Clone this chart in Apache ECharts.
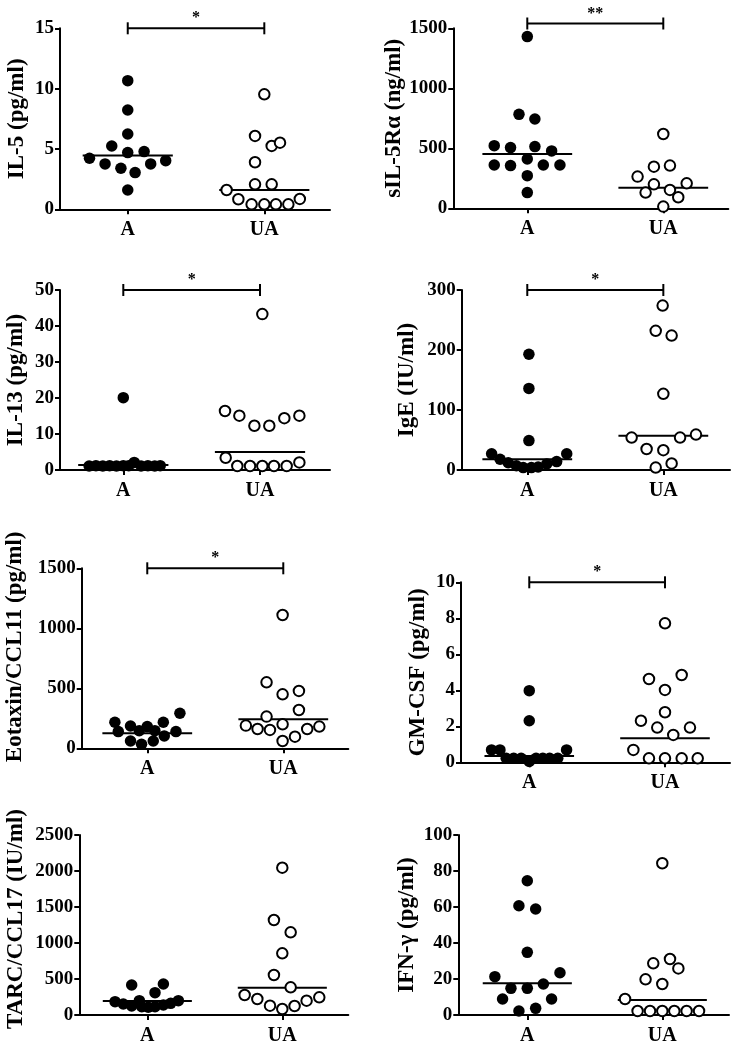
<!DOCTYPE html>
<html>
<head>
<meta charset="utf-8">
<script src="https://cdn.jsdelivr.net/npm/echarts@6/dist/echarts.min.js"></script>
<style>
html,body{margin:0;padding:0;background:#fff;}
#chart{width:741px;height:1050px;}
</style>
</head>
<body>
<div id="chart"></div>
<script>
// ---------- DATA ----------
const groups = ['A', 'UA'];

// IL-5 (pg/ml)
const il5_A    = [10.66, 8.23, 6.24, 5.25, 4.70, 4.78, 4.23, 3.76, 3.76, 4.03, 3.40, 3.04, 1.60];
const il5_A_dx = [0, 0, 0, -0.117, 0, 0.12, -0.28, -0.166, 0.168, 0.278, -0.05, 0.054, 0];
const il5_UA    = [9.53, 6.08, 5.25, 5.52, 3.90, 2.07, 2.07, 1.60, 0.83, 0.86, 0.41, 0.41, 0.41, 0.41];
const il5_UA_dx = [0, -0.068, 0.054, 0.115, -0.068, -0.068, 0.054, -0.276, -0.19, 0.26, -0.093, 0, 0.085, 0.176];
const il5_median = [4.45, 1.60];

// sIL-5Rα (ng/ml)
const sil5_A    = [1431, 783, 744, 522, 506, 514, 478, 411, 361, 356, 361, 361, 272, 131];
const sil5_A_dx = [0, -0.061, 0.056, -0.243, -0.123, 0.056, 0.179, 0, -0.243, -0.123, 0.118, 0.24, 0, 0];
const sil5_UA    = [619, 347, 356, 264, 200, 208, 131, 153, 92, 14];
const sil5_UA_dx = [0, -0.069, 0.049, -0.189, -0.069, 0.172, -0.13, 0.049, 0.11, 0];
const sil5_median = [453, 172];

// IL-13 (pg/ml)
const il13_A    = [20.1, 2.1, 1.1, 1.2, 1.1, 1.2, 1.1, 1.2, 1.2, 1.1, 1.2, 1.1, 1.2];
const il13_A_dx = [0, 0.08, -0.25, -0.2, -0.15, -0.1, -0.05, 0, 0.04, 0.13, 0.18, 0.23, 0.27];
const il13_UA    = [43.3, 16.4, 15.1, 12.3, 12.3, 14.4, 15.1, 3.4, 1.1, 1.1, 1.1, 1.1, 1.1, 2.1];
const il13_UA_dx = [0.017, -0.256, -0.151, -0.041, 0.068, 0.178, 0.288, -0.251, -0.166, -0.073, 0.017, 0.102, 0.195, 0.288];
const il13_median = [1.4, 5.0];

// IgE (IU/ml)
const ige_A    = [193, 136, 49, 27, 18, 12, 7, 4, 4, 5, 10, 14, 27];
const ige_A_dx = [0.012, 0.012, 0.012, -0.262, -0.2, -0.14, -0.08, -0.03, 0.03, 0.08, 0.143, 0.216, 0.29];
const ige_UA    = [274, 232, 224, 127, 54, 54, 59, 35, 33, 11, 4];
const ige_UA_dx = [-0.005, -0.056, 0.061, 0, -0.233, 0.123, 0.24, -0.123, 0, 0.061, -0.056];
const ige_median = [18, 57];

// Eotaxin/CCL11 (pg/ml)
const eot_A    = [217, 186, 181, 217, 292, 139, 147, 147, 139, 103, 61, 61, 33];
const eot_A_dx = [-0.238, -0.123, 0, 0.118, 0.24, -0.213, -0.059, 0.056, 0.211, 0.125, -0.123, 0.044, -0.042];
const eot_UA    = [1111, 550, 450, 478, 264, 319, 189, 161, 153, 200, 161, 181, 97, 61];
const eot_UA_dx = [-0.005, -0.123, -0.005, 0.115, -0.123, 0.115, -0.275, -0.189, -0.098, -0.005, 0.176, 0.265, 0.086, -0.005];
const eot_median = [125, 242];

// GM-CSF (pg/ml)
const gm_A    = [3.98, 2.31, 0.69, 0.69, 0.69, 0.22, 0.22, 0.22, 0.05, 0.22, 0.22, 0.22, 0.22];
const gm_A_dx = [0, 0, -0.278, -0.216, 0.275, -0.17, -0.115, -0.06, 0, 0.05, 0.1, 0.15, 0.21];
const gm_UA    = [7.72, 4.63, 4.85, 4.02, 2.78, 2.31, 1.93, 1.93, 1.52, 0.69, 0.22, 0.22, 0.22, 0.22];
const gm_UA_dx = [0, -0.118, 0.123, 0, 0, -0.177, -0.057, 0.184, 0.061, -0.233, -0.118, 0, 0.123, 0.241];
const gm_median = [0.35, 1.33];

// TARC/CCL17 (IU/ml)
const tarc_A    = [417, 431, 310, 185, 153, 125, 199, 115, 107, 115, 139, 162, 199];
const tarc_A_dx = [-0.116, 0.119, 0.057, -0.239, -0.178, -0.116, -0.059, -0.041, 0.007, 0.057, 0.119, 0.173, 0.23];
const tarc_UA    = [2046, 1319, 1148, 856, 556, 384, 278, 222, 130, 83, 125, 199, 245];
const tarc_UA_dx = [0, -0.062, 0.062, 0, -0.062, 0.062, -0.279, -0.185, -0.091, 0, 0.091, 0.18, 0.274];
const tarc_median = [194, 380];

// IFN-γ (pg/ml)
const ifn_A    = [74.6, 60.7, 58.9, 34.8, 21.3, 23.5, 17.2, 14.8, 14.8, 8.9, 8.9, 3.7, 2.2];
const ifn_A_dx = [0, -0.062, 0.062, 0, -0.24, 0.242, 0.119, -0.121, 0, -0.183, 0.18, 0.062, -0.062];
const ifn_UA    = [84.3, 28.7, 31.1, 25.9, 19.8, 17.2, 8.9, 2.2, 2.2, 2.2, 2.2, 2.2, 2.2];
const ifn_UA_dx = [0, -0.067, 0.057, 0.119, -0.124, 0, -0.276, -0.183, -0.091, 0, 0.089, 0.18, 0.272];
const ifn_median = [17.6, 8.3];

// y-axis titles
const yTitles = ['IL-5 (pg/ml)', 'sIL-5Rα (ng/ml)', 'IL-13 (pg/ml)', 'IgE (IU/ml)',
                 'Eotaxin/CCL11 (pg/ml)', 'GM-CSF (pg/ml)', 'TARC/CCL17 (IU/ml)', 'IFN-γ (pg/ml)'];
// y-axis ranges [max, interval]
const yMax      = [15, 1500, 50, 300, 1500, 10, 2500, 100];
const yInterval = [5, 500, 10, 100, 500, 2, 500, 20];
// significance bars: level and label (null = none)
const sigLevel = [15, 1540, 50, 300, 1500, 10, null, null];
const sigLabel = ['*', '**', '*', '*', '*', '*', '', ''];

// ---------- LAYOUT ----------
const panels = [
  {A: il5_A,  Adx: il5_A_dx,  U: il5_UA,  Udx: il5_UA_dx,  med: il5_median,
   grid: {left: 60, top: 28.3, width: 270, height: 181}, xMin: 0.504, xMax: 2.481, nameGap: 31, namePad: 0},
  {A: sil5_A, Adx: sil5_A_dx, U: sil5_UA, Udx: sil5_UA_dx, med: sil5_median,
   grid: {left: 453.3, top: 28.3, width: 275, height: 180}, xMin: 0.456, xMax: 2.478, nameGap: 46, namePad: 0},
  {A: il13_A, Adx: il13_A_dx, U: il13_UA, Udx: il13_UA_dx, med: il13_median,
   grid: {left: 60, top: 290, width: 270, height: 180}, xMin: 0.537, xMax: 2.512, nameGap: 32, namePad: 0},
  {A: ige_A,  Adx: ige_A_dx,  U: ige_UA,  Udx: ige_UA_dx,  med: ige_median,
   grid: {left: 461.7, top: 290, width: 268.3, height: 180}, xMin: 0.518, xMax: 2.49, nameGap: 43, namePad: 0},
  {A: eot_A,  Adx: eot_A_dx,  U: eot_UA,  Udx: eot_UA_dx,  med: eot_median,
   grid: {left: 81.7, top: 568.3, width: 266.6, height: 180}, xMin: 0.518, xMax: 2.478, nameGap: 55, namePad: 23},
  {A: gm_A,   Adx: gm_A_dx,   U: gm_UA,   Udx: gm_UA_dx,   med: gm_median,
   grid: {left: 461, top: 582.3, width: 269, height: 180}, xMin: 0.497, xMax: 2.479, nameGap: 31, namePad: 0},
  {A: tarc_A, Adx: tarc_A_dx, U: tarc_UA, Udx: tarc_UA_dx, med: tarc_median,
   grid: {left: 79.3, top: 835, width: 269, height: 180}, xMin: 0.496, xMax: 2.489, nameGap: 52, namePad: 12},
  {A: ifn_A,  Adx: ifn_A_dx,  U: ifn_UA,  Udx: ifn_UA_dx,  med: ifn_median,
   grid: {left: 458.3, top: 835, width: 270.7, height: 180}, xMin: 0.489, xMax: 2.494, nameGap: 40, namePad: 0}
];

const FONT = "'Liberation Serif','Times New Roman',serif";
const MED_HALF = 0.33;

const grid = [], xAxis = [], yAxis = [], series = [];
panels.forEach((p, i) => {
  grid.push(Object.assign({containLabel: false, outerBoundsMode: 'none'}, p.grid));
  xAxis.push({
    type: 'value', gridIndex: i, min: p.xMin, max: p.xMax,
    axisLine: {show: true, onZero: false, lineStyle: {color: '#000', width: 2}},
    axisTick: {show: true, customValues: [1, 2], length: 5, lineStyle: {color: '#000', width: 2}},
    axisLabel: {show: true, customValues: [1, 2], margin: 11,
      formatter: v => groups[Math.round(v) - 1] || '',
      color: '#000', fontFamily: FONT, fontWeight: 'bold', fontSize: 20},
    splitLine: {show: false}
  });
  yAxis.push({
    type: 'value', gridIndex: i, min: 0, max: yMax[i], interval: yInterval[i],
    name: yTitles[i], nameLocation: 'middle', nameRotate: 90, nameGap: p.nameGap,
    nameTextStyle: {color: '#000', fontFamily: FONT, fontWeight: 'bold', fontSize: 23,
      padding: [0, 0, 0, p.namePad]},
    axisLine: {show: true, lineStyle: {color: '#000', width: 2}},
    axisTick: {show: true, length: 5, lineStyle: {color: '#000', width: 2}},
    axisLabel: {margin: 6, color: '#000', fontFamily: FONT, fontWeight: 'bold', fontSize: 19,
      formatter: v => String(v)},
    splitLine: {show: false}
  });
  // median lines
  [0, 1].forEach(g => {
    const c = g + 1;
    series.push({
      type: 'line', xAxisIndex: i, yAxisIndex: i, symbol: 'none', silent: true, z: 2,
      lineStyle: {color: '#000', width: 2}, animation: false,
      data: [[c - MED_HALF, p.med[g]], [c + MED_HALF, p.med[g]]]
    });
  });
  // group A (filled)
  series.push({
    type: 'scatter', xAxisIndex: i, yAxisIndex: i, symbol: 'circle', symbolSize: 11.5, z: 3,
    itemStyle: {color: '#000', opacity: 1}, animation: false, clip: false,
    data: p.A.map((v, k) => [1 + p.Adx[k], v])
  });
  // group UA (open)
  series.push({
    type: 'scatter', xAxisIndex: i, yAxisIndex: i, symbol: 'circle', symbolSize: 10.5, z: 4,
    itemStyle: {color: '#fff', borderColor: '#000', borderWidth: 2, opacity: 1}, animation: false, clip: false,
    data: p.U.map((v, k) => [2 + p.Udx[k], v])
  });
  // significance bar
  if (sigLevel[i] != null) {
    const lab = sigLabel[i];
    series.push({
      type: 'custom', xAxisIndex: i, yAxisIndex: i, z: 5, animation: false, silent: true,
      data: [[1, 2, sigLevel[i]]],
      renderItem: (params, api) => {
        const y = api.value(2);
        const a = api.coord([api.value(0), y]);
        const b = api.coord([api.value(1), y]);
        const st = {stroke: '#000', lineWidth: 2};
        return {type: 'group', children: [
          {type: 'line', shape: {x1: a[0], y1: a[1], x2: b[0], y2: b[1]}, style: st},
          {type: 'line', shape: {x1: a[0], y1: a[1] - 6, x2: a[0], y2: a[1] + 6}, style: st},
          {type: 'line', shape: {x1: b[0], y1: b[1] - 6, x2: b[0], y2: b[1] + 6}, style: st},
          {type: 'text', x: (a[0] + b[0]) / 2, y: a[1] - 2,
           style: {text: lab, fill: '#000', font: 'bold 16px ' + FONT, align: 'center', verticalAlign: 'bottom'}}
        ]};
      }
    });
  }
});

const chart = echarts.init(document.getElementById('chart'), null, {renderer: 'canvas'});
chart.setOption({
  backgroundColor: '#fff',
  animation: false,
  grid: grid, xAxis: xAxis, yAxis: yAxis, series: series
});
</script>
</body>
</html>
